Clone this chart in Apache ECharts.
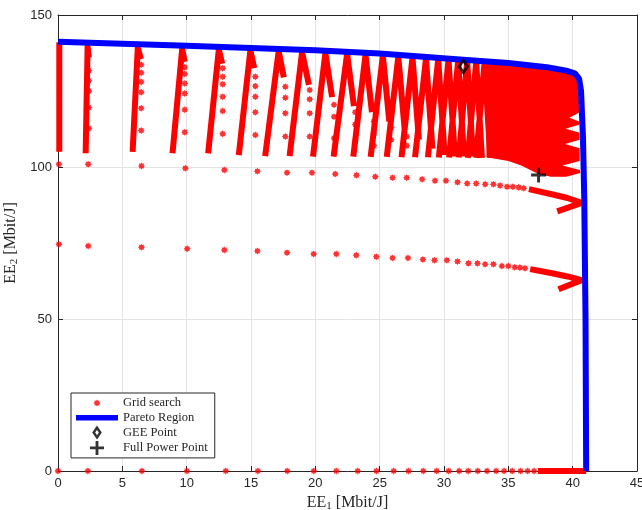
<!DOCTYPE html>
<html lang="en">

<head>
    <meta charset="UTF-8">
    <title>EE1 / EE2 grid search and Pareto region</title>
    <script src="https://cdn.jsdelivr.net/npm/echarts/dist/echarts.min.js"></script>
    <style>
        body,
        html {
            padding: 0;
            margin: 0;
            background: #fff;
        }

        #chart-panel {
            width: 642px;
            height: 510px;
        }
    </style>
</head>

<body>
    <div id="chart-panel"></div>
    <script>
        // grid search points on the EE2 = 0 row, one per column
        var colX = [0, 2.32, 6.52, 10.02, 13.04, 15.53, 17.82, 19.88, 21.63, 23.29, 24.75, 26.09, 27.24, 28.39, 29.43, 30.36, 31.18, 31.88, 32.62, 33.35, 34.05, 34.67, 35.3, 35.95, 36.5, 37.0];
        var row0Tail = [[37.3, 0], [41.05, 0]];

        // row around EE2 = 100
        var row100X = [0.07, 2.35, 6.49, 9.9, 12.93, 15.5, 17.8, 19.74, 21.55, 23.2, 24.66, 26.0, 27.1, 28.3, 29.3, 30.15, 31.05, 31.8, 32.5, 33.2, 33.84, 34.36, 34.9, 35.35, 35.8, 36.2];
        var row100Y = [100.9, 100.9, 100.3, 99.6, 99.0, 98.6, 98.1, 98.1, 97.7, 97.3, 96.8, 96.5, 96.5, 96.0, 95.5, 95.5, 95.0, 94.6, 94.6, 94.3, 94.3, 93.9, 93.5, 93.5, 93.3, 93.0];
        var row100Tail = [[36.6, 92.7], [38.2, 91.2], [39.6, 89.8], [40.7, 88.2], [38.8, 85.4]];

        // row around EE2 = 73
        var row73X = [0.07, 2.35, 6.49, 10.04, 12.93, 15.5, 17.8, 19.87, 21.63, 23.18, 24.74, 26.0, 27.2, 28.36, 29.26, 30.22, 31.05, 31.9, 32.6, 33.2, 33.84, 34.5, 35.0, 35.5, 35.9, 36.3];
        var row73Y = [74.6, 74.0, 73.6, 73.1, 72.7, 72.4, 71.8, 71.4, 71.4, 71.0, 70.5, 70.1, 70.1, 69.6, 69.3, 69.3, 68.9, 68.3, 68.3, 68.0, 68.0, 67.4, 67.4, 67.0, 66.9, 66.7];
        var row73Tail = [[36.7, 66.4], [38.2, 65.2], [39.6, 64.0], [40.7, 62.8], [38.9, 59.8]];

        // arches of the upper band: leg bottom -> top -> end of dense right side
        var archBottomX = [0.1, 2.15, 5.8, 8.9, 11.67, 14.05, 16.1, 18.0, 19.82, 21.42, 22.95, 24.3, 25.55, 26.7, 27.75, 28.75, 29.6, 30.4, 31.15, 31.85, 32.5];
        var archBottomY = [105, 104.5, 105, 104.5, 104.5, 103.9, 103.6, 103.6, 103.4, 103.4, 103.4, 103.3, 103.3, 103.2, 103.2, 103.2, 103.1, 103.1, 103.1, 103.0, 103.0];
        var archTopX = [0.1, 2.3, 6.2, 9.65, 12.5, 14.95, 17.15, 18.97, 20.78, 22.47, 23.9, 25.25, 26.45, 27.55, 28.6, 29.55, 30.35, 31.1, 31.8, 32.5, 33.15];
        var archTopY = [141, 139.6, 139.2, 138.8, 138.7, 138.4, 138.1, 137.8, 137.5, 137.2, 136.9, 136.6, 136.3, 136.0, 135.7, 135.4, 135.2, 135.0, 134.8, 134.5, 134.3];
        var archEndX = [0.1, 2.4, 6.45, 9.85, 12.76, 15.25, 17.55, 19.5, 21.3, 23.0, 24.4, 25.75, 26.95, 28.05, 29.1, 30.05, 30.85, 31.55, 32.25, 32.95, 33.6];
        var archEndY = [141, 136, 135.5, 134.6, 134, 132.5, 129.5, 127, 123, 120, 118, 115, 112, 109, 106, 104, 103.5, 103.5, 103.5, 103, 103];

        // sparse points under the arches
        var dotColX = [2.4, 6.47, 9.85, 12.8, 15.34, 17.67, 19.56, 21.45, 23.1, 24.55, 25.9, 27.1];
        var dotColY = [
            [131.7, 128.4, 125, 119.6, 112.7],
            [133.6, 131, 128, 124.6, 119.3, 112],
            [132.8, 130.6, 127.5, 124.2, 118.8, 111.4],
            [132.5, 129.7, 127.2, 123.1, 118.4, 110.9],
            [129.7, 126.6, 123.1, 118, 110.5],
            [126.4, 122.8, 117.7, 110],
            [125.3, 122.3, 117.7, 110],
            [120.5, 116.5, 109.5],
            [118, 114, 108.5],
            [115, 111, 107],
            [113, 109],
            [110, 107]
        ];

        // solid region of the grid search near the corner
        var denseBlock = [
            [33.3, 134.2], [36, 133.6], [38, 132.6], [39.5, 131.6], [40.2, 130.6], [40.5, 128.5],
            [40.55, 118], [39.75, 116.2], [40.55, 114.9],
            [40.55, 114], [39.45, 112.6], [40.55, 111.3],
            [40.55, 109], [39.4, 107.6], [40.55, 106.2],
            [40.55, 102], [39.2, 100.5], [40.55, 99],
            [40.6, 98], [39.5, 96.8], [38.3, 96.8], [37.3, 97.8], [36, 100.5], [35, 102], [33.3, 103.2]
        ];

        var paretoX = [0, 10, 20, 25, 31.5, 35, 38, 39.5, 40.2, 40.5, 40.65, 40.8, 40.9, 41.0, 41.05];
        var paretoY = [141.2, 139.9, 138.4, 137.3, 135.3, 134.2, 132.8, 131.7, 130.7, 129, 125, 110, 90, 50, 0];

        var geePoint = [31.5, 133.1];
        var fullPowerPoint = [37.35, 97.4];

        var starPath = 'path://M20,10L16.47,12.68L17.07,17.07L12.68,16.47L10,20L7.32,16.47L2.93,17.07L3.53,12.68L0,10L3.53,7.32L2.93,2.93L7.32,3.53L10,0L12.68,3.53L17.07,2.93L16.47,7.32Z';
        var starLegend = 'path://M-10,-10h0.01v0.01h-0.01Z M30,30h0.01v0.01h-0.01Z M20,10L16.47,12.68L17.07,17.07L12.68,16.47L10,20L7.32,16.47L2.93,17.07L3.53,12.68L0,10L3.53,7.32L2.93,2.93L7.32,3.53L10,0L12.68,3.53L17.07,2.93L16.47,7.32Z';
        var diamondPath = 'path://M5.5,0L11,8L5.5,16L0,8Z M5.5,4.94L3.4,8L5.5,11.06L7.6,8Z';
        var plusPath = 'path://M6,0H9V6H15V9H9V15H6V9H0V6H6Z';
        var barPath = 'path://M0,0H46V6H0Z';

        // build the point and leg lists
        var dots = [];
        colX.forEach(function (x) { dots.push([x, 0]); });
        row100X.forEach(function (x, i) { dots.push([x, row100Y[i]]); });
        row73X.forEach(function (x, i) { dots.push([x, row73Y[i]]); });
        dotColX.forEach(function (x, i) {
            dotColY[i].forEach(function (y) { dots.push([x, y]); });
        });

        var legs = [];
        for (var i = 0; i < archTopX.length; i++) {
            legs.push([archBottomX[i], archBottomY[i]], [archTopX[i], archTopY[i]], [archEndX[i], archEndY[i]], ['-', '-']);
        }
        [row100Tail, row73Tail, row0Tail].forEach(function (t) {
            t.forEach(function (p) { legs.push(p); });
            legs.push(['-', '-']);
        });

        var pareto = paretoX.map(function (x, i) { return [x, paretoY[i]]; });

        var axisColor = '#262626';
        var labelFont = { color: axisColor, fontSize: 13, fontFamily: 'Liberation Sans' };
        var nameRich = {
            n: { fontFamily: 'Liberation Serif', fontSize: 16, color: axisColor },
            s: { fontFamily: 'Liberation Serif', fontSize: 11, color: axisColor, padding: [7, 0, 0, 0] }
        };

        var option = {
            backgroundColor: '#fff',
            animation: false,
            grid: { left: 58, right: 5, top: 15, bottom: 39, outerBoundsMode: 'none', containLabel: false },
            xAxis: [{
                type: 'value', min: 0, max: 45, interval: 5,
                axisLine: { onZero: false, lineStyle: { color: axisColor } },
                axisTick: { inside: true, length: 5, lineStyle: { color: axisColor } },
                axisLabel: Object.assign({ margin: 6 }, labelFont),
                splitLine: { lineStyle: { color: '#e3e3e3' } },
                name: '{n|EE}{s|1}{n| [Mbit/J]}',
                nameLocation: 'middle', nameGap: 13,
                nameTextStyle: { rich: nameRich }
            }, {
                type: 'value', min: 0, max: 45, interval: 5, position: 'top',
                axisLine: { onZero: false, lineStyle: { color: axisColor } },
                axisTick: { inside: true, length: 5, lineStyle: { color: axisColor } },
                axisLabel: { show: false }, splitLine: { show: false }
            }],
            yAxis: [{
                type: 'value', min: 0, max: 150, interval: 50,
                axisLine: { onZero: false, lineStyle: { color: axisColor } },
                axisTick: { inside: true, length: 5, lineStyle: { color: axisColor } },
                axisLabel: Object.assign({ margin: 6 }, labelFont),
                splitLine: { lineStyle: { color: '#e3e3e3' } },
                name: '{n|EE}{s|2}{n| [Mbit/J]}',
                nameLocation: 'middle', nameGap: 22, nameRotate: 90,
                nameTextStyle: { rich: nameRich }
            }, {
                type: 'value', min: 0, max: 150, interval: 50, position: 'right',
                axisLine: { onZero: false, lineStyle: { color: axisColor } },
                axisTick: { inside: true, length: 5, lineStyle: { color: axisColor } },
                axisLabel: { show: false }, splitLine: { show: false }
            }],
            legend: {
                left: 71, top: 393, orient: 'vertical',
                itemWidth: 42, itemHeight: 14, itemGap: 1.3,
                padding: [3, 7, 3, 5],
                borderColor: axisColor, borderWidth: 1, borderRadius: 0,
                backgroundColor: '#fff',
                selectedMode: false,
                textStyle: { fontFamily: 'Liberation Serif', fontSize: 12.5, color: axisColor },
                data: [
                    { name: 'Grid search', icon: starLegend },
                    { name: 'Pareto Region', icon: barPath },
                    { name: 'GEE Point', icon: diamondPath },
                    { name: 'Full Power Point', icon: plusPath }
                ]
            },
            series: [{
                name: 'Grid search', type: 'scatter', clip: false,
                symbol: starPath, symbolSize: 7,
                itemStyle: { color: '#ff0000' },
                data: dots
            }, {
                name: 'grid legs', type: 'line', clip: false,
                symbol: 'none', connectNulls: false,
                lineStyle: { color: '#ff0000', width: 6, join: 'round' },
                data: legs
            }, {
                name: 'grid block', type: 'custom',
                data: denseBlock,
                encode: { x: 0, y: 1 },
                renderItem: function (params, api) {
                    if (params.dataIndex !== 0) return;
                    var pts = denseBlock.map(function (p) { return api.coord(p); });
                    return { type: 'polygon', shape: { points: pts }, style: { fill: '#ff0000' } };
                }
            }, {
                name: 'Pareto Region', type: 'line', clip: false,
                symbol: 'none', z: 4,
                itemStyle: { color: '#0000ff' },
                lineStyle: { color: '#0000ff', width: 6 },
                data: pareto
            }, {
                name: 'GEE Point', type: 'scatter', clip: false, z: 6,
                symbol: diamondPath, symbolSize: [12, 17],
                itemStyle: { color: '#000' },
                data: [geePoint]
            }, {
                name: 'Full Power Point', type: 'scatter', clip: false, z: 6,
                symbol: plusPath, symbolSize: 15,
                itemStyle: { color: '#000' },
                data: [fullPowerPoint]
            }]
        };

        var chartVM = echarts.init(document.getElementById('chart-panel'));
        chartVM.setOption(option);
    </script>
</body>

</html>
